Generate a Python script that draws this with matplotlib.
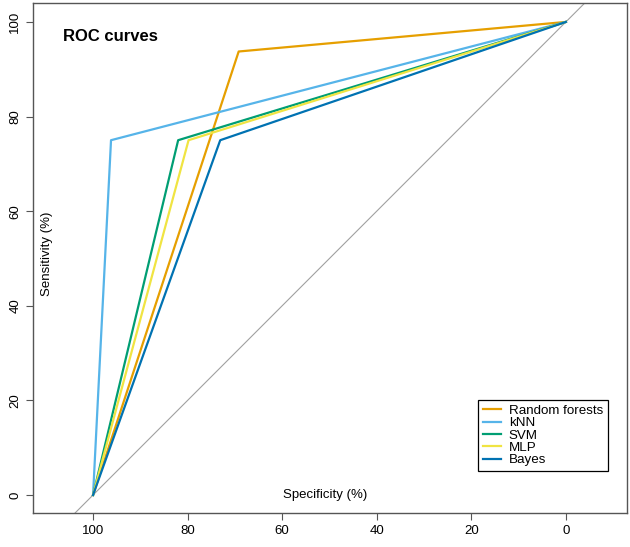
import matplotlib
matplotlib.use("Agg")
import matplotlib.pyplot as plt

plt.rcParams['font.family'] = ['Liberation Sans', 'DejaVu Sans']

# ROC points (specificity %, sensitivity %)
models = ['Random forests', 'kNN', 'SVM', 'MLP', 'Bayes']
colors = ['#E69F00', '#56B4E9', '#009E73', '#F0E442', '#0072B2']
spec = [[100, 69.2, 0], [100, 96.2, 0], [100, 82.0, 0], [100, 79.8, 0], [100, 73.1, 0]]
sens = [[0, 93.75, 100], [0, 75, 100], [0, 75, 100], [0, 75, 100], [0, 75, 100]]
ticks = [100, 80, 60, 40, 20, 0]

fig = plt.figure(figsize=(6.3, 5.47), dpi=100)
ax = fig.add_axes([0.0524, 0.0622, 0.9426, 0.9323])

# chance line
ax.axline((100, 0), (0, 100), color='#a0a0a0', lw=0.8, zorder=1)

for name, c, x, y in zip(models, colors, spec, sens):
    ax.plot(x, y, color=c, lw=1.6, label=name, zorder=2)

ax.set_xlim(112.7, -12.9)
ax.set_ylim(-3.8, 104)
ax.set_xticks(ticks)
ax.set_yticks(ticks)
ax.tick_params(labelsize=9.5, length=5, color='#555555', width=0.8)
for lab in ax.get_yticklabels():
    lab.set_rotation(90)
    lab.set_va('center')
for s in ax.spines.values():
    s.set_color('#555555')
    s.set_linewidth(1.0)

ax.text(106.3, 97, 'ROC curves', fontsize=12, fontweight='bold', va='center', ha='left')
ax.text(51, 0, 'Specificity (%)', fontsize=9.5, ha='center', va='center')
ax.text(109.7, 51, 'Sensitivity (%)', fontsize=9.5, ha='center', va='center', rotation=90)

leg = ax.legend(loc='lower right', bbox_to_anchor=(0.968, 0.082), borderaxespad=0,
                fontsize=9.6, fancybox=False, edgecolor='black', framealpha=1,
                labelspacing=0.0, handlelength=1.35, handletextpad=0.6, borderpad=0.35)
leg.get_frame().set_linewidth(0.9)

fig.savefig('out.png', dpi=100)
